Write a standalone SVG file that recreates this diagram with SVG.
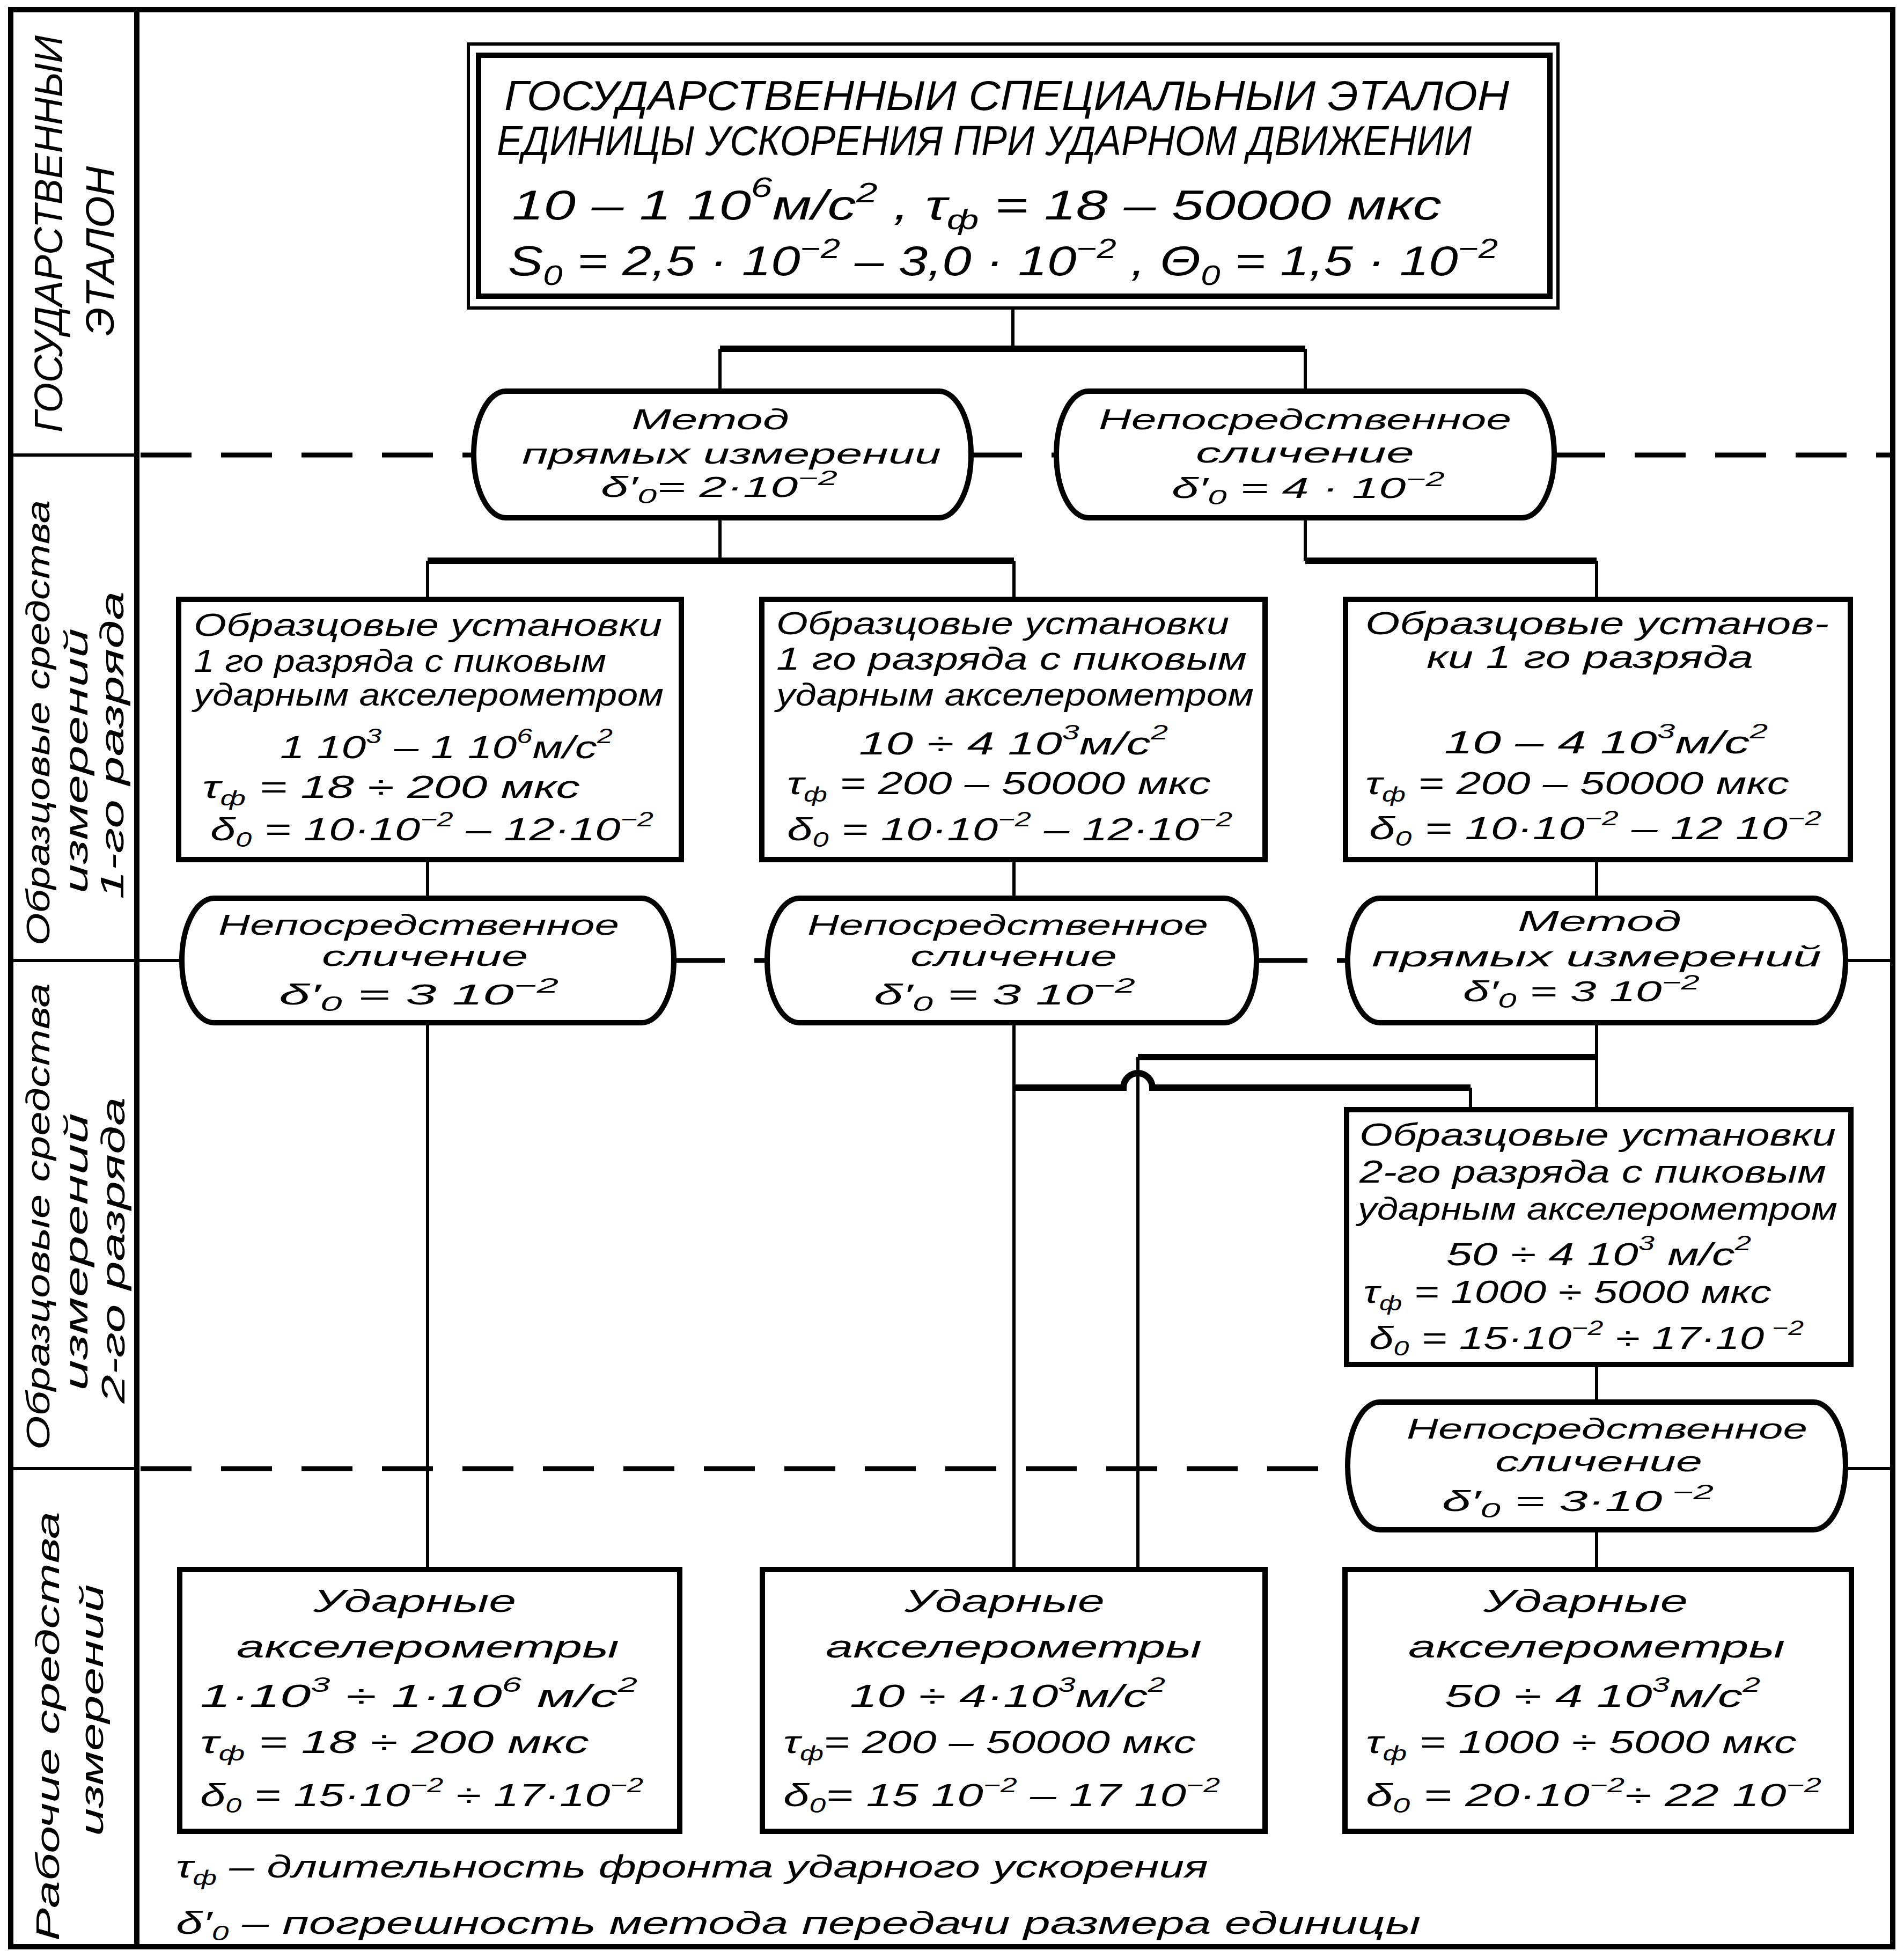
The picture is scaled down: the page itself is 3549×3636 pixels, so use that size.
<svg xmlns="http://www.w3.org/2000/svg" width="3549" height="3636" viewBox="0 0 3549 3636">
<style>
.t{font-family:"Liberation Sans Narrow","Liberation Sans",sans-serif;font-style:italic;fill:#000;}
.b{font-size:60px;}
.o{font-size:54px;}
.h{font-size:78px;}
.lc{font-size:74px;}
.c{font-size:62px;}
.s{font-size:38px;}
.sh{font-size:52px;}
.box{fill:#fff;stroke:#000;stroke-width:10;}
.ov{fill:#fff;stroke:#000;stroke-width:10;}
.v{stroke:#000;stroke-width:6;fill:none;}
.hz{stroke:#000;stroke-width:12;fill:none;}
.fr{stroke:#000;stroke-width:10;fill:none;}
.sep{stroke:#000;stroke-width:6;fill:none;}
.dash{stroke:#000;stroke-width:9;fill:none;stroke-dasharray:95 55;}
</style>
<rect x="0" y="0" width="3549" height="3636" fill="#fff"/>

<g id="frame">
<rect class="fr" x="20" y="18" width="3508" height="3610"/>
<line class="fr" x1="255" y1="18" x2="255" y2="3628"/>
<line class="sep" x1="20" y1="848" x2="255" y2="848"/>
<line class="sep" x1="20" y1="1790" x2="255" y2="1790"/>
<line class="sep" x1="20" y1="2737" x2="255" y2="2737"/>
</g>

<g id="levels">
<line class="dash" x1="262" y1="848" x2="883" y2="848"/>
<line class="dash" x1="1810" y1="848" x2="1969" y2="848"/>
<line class="dash" x1="2897" y1="848" x2="3523" y2="848"/>
<line class="sep" x1="255" y1="1790" x2="339" y2="1790"/>
<line class="dash" x1="1256" y1="1790" x2="1430" y2="1790"/>
<line class="dash" x1="2342" y1="1790" x2="2512" y2="1790"/>
<line class="sep" x1="3440" y1="1790" x2="3528" y2="1790"/>
<line class="dash" x1="262" y1="2737" x2="2512" y2="2737"/>
<line class="sep" x1="3440" y1="2737" x2="3528" y2="2737"/>
</g>

<g id="labels" class="t">
<text class="lc" x="116" y="436" text-anchor="middle" textLength="740" lengthAdjust="spacingAndGlyphs" transform="rotate(-90 116 436)">ГОСУДАРСТВЕННЫИ</text>
<text class="lc" x="212" y="468" text-anchor="middle" textLength="316" lengthAdjust="spacingAndGlyphs" transform="rotate(-90 212 468)">ЭТАЛОН</text>

<text class="c" x="92" y="1347" text-anchor="middle" textLength="830" lengthAdjust="spacingAndGlyphs" transform="rotate(-90 92 1347)">Образцовые средства</text>
<text class="c" x="163" y="1418" text-anchor="middle" textLength="494" lengthAdjust="spacingAndGlyphs" transform="rotate(-90 163 1418)">измерений</text>
<text class="c" x="230" y="1389" text-anchor="middle" textLength="574" lengthAdjust="spacingAndGlyphs" transform="rotate(-90 230 1389)">1-го разряда</text>

<text class="c" x="92" y="2267" text-anchor="middle" textLength="870" lengthAdjust="spacingAndGlyphs" transform="rotate(-90 92 2267)">Образцовые средства</text>
<text class="c" x="163" y="2333" text-anchor="middle" textLength="517" lengthAdjust="spacingAndGlyphs" transform="rotate(-90 163 2333)">измерений</text>
<text class="c" x="232" y="2330" text-anchor="middle" textLength="571" lengthAdjust="spacingAndGlyphs" transform="rotate(-90 232 2330)">2-го разряда</text>

<text class="c" x="110" y="3217" text-anchor="middle" textLength="800" lengthAdjust="spacingAndGlyphs" transform="rotate(-90 110 3217)">Рабочие средства</text>
<text class="c" x="192" y="3187" text-anchor="middle" textLength="469" lengthAdjust="spacingAndGlyphs" transform="rotate(-90 192 3187)">измерений</text>
</g>

<g id="connectors">
<path class="v" d="M1888,574 V650 M1342,650 V729 M2433,650 V729"/>
<path class="hz" d="M1342,650 H2433"/>
<path class="v" d="M1342,965 V1045 M797,1045 V1117 M1890,1045 V1117 M2433,965 V1045 M2976,1045 V1117"/>
<path class="hz" d="M797,1045 H1890 M2433,1045 H2976"/>
<path class="v" d="M797,1602 V1674 M1890,1602 V1674 M2976,1602 V1674"/>
<path class="v" d="M797,1906 V2925 M1890,1906 V2925 M2976,1906 V2068 M2121,1970 V2925 M2741,2027 V2068"/>
<path class="hz" d="M2976,1970 H2121 M1890,2027 H2094 A27,27 0 0 1 2148,2027 H2741"/>
<path class="v" d="M2976,2543 V2613 M2976,2851 V2925"/>
</g>

<g id="n_etalon">
<rect x="873" y="82" width="2031" height="492" fill="#fff" stroke="#000" stroke-width="6"/>
<rect x="892" y="103" width="1997" height="449" fill="none" stroke="#000" stroke-width="10"/>
<g class="t h">
<text x="940" y="205" textLength="1873" lengthAdjust="spacingAndGlyphs">ГОСУДАРСТВЕННЫИ СПЕЦИАЛЬНЫИ  ЭТАЛОН</text>
<text x="926" y="289" textLength="1817" lengthAdjust="spacingAndGlyphs">ЕДИНИЦЫ УСКОРЕНИЯ ПРИ УДАРНОМ ДВИЖЕНИИ</text>
<text x="954" y="409" textLength="1733" lengthAdjust="spacingAndGlyphs">10 – 1 10<tspan class="sh" dy="-42">6</tspan><tspan dy="42">м/с</tspan><tspan class="sh" dy="-32">2</tspan><tspan dy="32"> ,   τ</tspan><tspan class="sh" dy="18">ф</tspan><tspan dy="-18"> = 18 – 50000 мкс</tspan></text>
<text x="947" y="513" textLength="1845" lengthAdjust="spacingAndGlyphs">S<tspan class="sh" dy="18">0</tspan><tspan dy="-18"> = 2,5 · 10</tspan><tspan class="sh" dy="-32">−2</tspan><tspan dy="32"> – 3,0 · 10</tspan><tspan class="sh" dy="-32">−2</tspan><tspan dy="32"> ,  Θ</tspan><tspan class="sh" dy="18">0</tspan><tspan dy="-18"> = 1,5 · 10</tspan><tspan class="sh" dy="-32">−2</tspan></text>
</g>
</g>

<g id="m_direct1">
<path class="ov" d="M943,729 H1750 A60,118 0 0 1 1750,965 H943 A60,118 0 0 1 943,729 Z"/>
<g class="t o">
<text x="1177" y="800" textLength="294" lengthAdjust="spacingAndGlyphs">Метод</text>
<text x="973" y="864" textLength="781" lengthAdjust="spacingAndGlyphs">прямых измерении</text>
<text x="1120" y="926" textLength="441" lengthAdjust="spacingAndGlyphs">δ′<tspan class="s" dy="12">0</tspan><tspan dy="-12">= 2·10</tspan><tspan class="s" dy="-22">−2</tspan></text>
</g>
</g>
<g id="m_compare1">
<path class="ov" d="M2029,729 H2837 A60,118 0 0 1 2837,965 H2029 A60,118 0 0 1 2029,729 Z"/>
<g class="t o">
<text x="2048" y="800" textLength="769" lengthAdjust="spacingAndGlyphs">Непосредственное</text>
<text x="2229" y="862" textLength="407" lengthAdjust="spacingAndGlyphs">сличение</text>
<text x="2184" y="928" textLength="509" lengthAdjust="spacingAndGlyphs">δ′<tspan class="s" dy="12">0</tspan><tspan dy="-12"> = 4 · 10</tspan><tspan class="s" dy="-22">−2</tspan></text>
</g>
</g>

<g id="b1_a">
<rect class="box" x="333" y="1117" width="937" height="485"/>
<g class="t b">
<text x="361" y="1185" textLength="873" lengthAdjust="spacingAndGlyphs">Образцовые установки</text>
<text x="361" y="1252" textLength="769" lengthAdjust="spacingAndGlyphs">1 го разряда с пиковым</text>
<text x="361" y="1315" textLength="876" lengthAdjust="spacingAndGlyphs">ударным акселерометром</text>
<text x="522" y="1413" textLength="620" lengthAdjust="spacingAndGlyphs">1 10<tspan class="s" dy="-28">3</tspan><tspan dy="28"> – 1 10</tspan><tspan class="s" dy="-28">6</tspan><tspan dy="28">м/с</tspan><tspan class="s" dy="-28">2</tspan></text>
<text x="377" y="1487" textLength="704" lengthAdjust="spacingAndGlyphs">τ<tspan class="s" dy="14">ф</tspan><tspan dy="-14"> = 18 ÷ 200 мкс</tspan></text>
<text x="392" y="1566" textLength="826" lengthAdjust="spacingAndGlyphs">δ<tspan class="s" dy="12">0</tspan><tspan dy="-12"> = 10·10</tspan><tspan class="s" dy="-26">−2</tspan><tspan dy="26"> – 12·10</tspan><tspan class="s" dy="-26">−2</tspan></text>
</g>
</g>
<g id="b1_b">
<rect class="box" x="1420" y="1117" width="938" height="485"/>
<g class="t b">
<text x="1447" y="1182" textLength="844" lengthAdjust="spacingAndGlyphs">Образцовые установки</text>
<text x="1447" y="1248" textLength="877" lengthAdjust="spacingAndGlyphs">1 го разряда с пиковым</text>
<text x="1447" y="1315" textLength="890" lengthAdjust="spacingAndGlyphs">ударным акселерометром</text>
<text x="1601" y="1406" textLength="576" lengthAdjust="spacingAndGlyphs">10 ÷ 4  10<tspan class="s" dy="-28">3</tspan><tspan dy="28">м/с</tspan><tspan class="s" dy="-28">2</tspan></text>
<text x="1467" y="1480" textLength="790" lengthAdjust="spacingAndGlyphs">τ<tspan class="s" dy="14">ф</tspan><tspan dy="-14"> = 200 – 50000 мкс</tspan></text>
<text x="1467" y="1566" textLength="830" lengthAdjust="spacingAndGlyphs">δ<tspan class="s" dy="12">0</tspan><tspan dy="-12"> = 10·10</tspan><tspan class="s" dy="-26">−2</tspan><tspan dy="26"> – 12·10</tspan><tspan class="s" dy="-26">−2</tspan></text>
</g>
</g>
<g id="b1_c">
<rect class="box" x="2508" y="1117" width="941" height="485"/>
<g class="t b">
<text x="2545" y="1182" textLength="864" lengthAdjust="spacingAndGlyphs">Образцовые установ-</text>
<text x="2659" y="1245" textLength="609" lengthAdjust="spacingAndGlyphs">ки 1 го разряда</text>
<text x="2692" y="1404" textLength="603" lengthAdjust="spacingAndGlyphs">10 – 4  10<tspan class="s" dy="-28">3</tspan><tspan dy="28">м/с</tspan><tspan class="s" dy="-28">2</tspan></text>
<text x="2545" y="1480" textLength="790" lengthAdjust="spacingAndGlyphs">τ<tspan class="s" dy="14">ф</tspan><tspan dy="-14"> = 200 – 50000 мкс</tspan></text>
<text x="2552" y="1564" textLength="843" lengthAdjust="spacingAndGlyphs">δ<tspan class="s" dy="12">0</tspan><tspan dy="-12"> = 10·10</tspan><tspan class="s" dy="-26">−2</tspan><tspan dy="26"> – 12  10</tspan><tspan class="s" dy="-26">−2</tspan></text>
</g>
</g>

<g id="m_compare2a">
<path class="ov" d="M399,1674 H1196 A60,116 0 0 1 1196,1906 H399 A60,116 0 0 1 399,1674 Z"/>
<g class="t o">
<text x="407" y="1742" textLength="747" lengthAdjust="spacingAndGlyphs">Непосредственное</text>
<text x="600" y="1800" textLength="384" lengthAdjust="spacingAndGlyphs">сличение</text>
<text x="520" y="1872" textLength="521" lengthAdjust="spacingAndGlyphs">δ′<tspan class="s" dy="12">0</tspan><tspan dy="-12"> = 3   10</tspan><tspan class="s" dy="-22">−2</tspan></text>
</g>
</g>
<g id="m_compare2b">
<path class="ov" d="M1490,1674 H2282 A60,116 0 0 1 2282,1906 H1490 A60,116 0 0 1 1490,1674 Z"/>
<g class="t o">
<text x="1505" y="1742" textLength="747" lengthAdjust="spacingAndGlyphs">Непосредственное</text>
<text x="1697" y="1800" textLength="385" lengthAdjust="spacingAndGlyphs">сличение</text>
<text x="1629" y="1872" textLength="487" lengthAdjust="spacingAndGlyphs">δ′<tspan class="s" dy="12">0</tspan><tspan dy="-12"> = 3  10</tspan><tspan class="s" dy="-22">−2</tspan></text>
</g>
</g>
<g id="m_direct2">
<path class="ov" d="M2572,1674 H3380 A60,116 0 0 1 3380,1906 H2572 A60,116 0 0 1 2572,1674 Z"/>
<g class="t o">
<text x="2829" y="1735" textLength="305" lengthAdjust="spacingAndGlyphs">Метод</text>
<text x="2557" y="1801" textLength="838" lengthAdjust="spacingAndGlyphs">прямых  измерений</text>
<text x="2727" y="1866" textLength="441" lengthAdjust="spacingAndGlyphs">δ′<tspan class="s" dy="12">0</tspan><tspan dy="-12"> = 3  10</tspan><tspan class="s" dy="-22">−2</tspan></text>
</g>
</g>

<g id="b2_c">
<rect class="box" x="2510" y="2068" width="940" height="475"/>
<g class="t b">
<text x="2534" y="2135" textLength="888" lengthAdjust="spacingAndGlyphs">Образцовые установки</text>
<text x="2534" y="2204" textLength="870" lengthAdjust="spacingAndGlyphs">2-го разряда с пиковым</text>
<text x="2531" y="2273" textLength="894" lengthAdjust="spacingAndGlyphs">ударным акселерометром</text>
<text x="2696" y="2358" textLength="568" lengthAdjust="spacingAndGlyphs">50 ÷ 4  10<tspan class="s" dy="-28">3</tspan><tspan dy="28"> м/с</tspan><tspan class="s" dy="-28">2</tspan></text>
<text x="2541" y="2428" textLength="761" lengthAdjust="spacingAndGlyphs">τ<tspan class="s" dy="14">ф</tspan><tspan dy="-14"> = 1000 ÷ 5000 мкс</tspan></text>
<text x="2552" y="2514" textLength="810" lengthAdjust="spacingAndGlyphs">δ<tspan class="s" dy="12">0</tspan><tspan dy="-12"> = 15·10</tspan><tspan class="s" dy="-26">−2</tspan><tspan dy="26"> ÷ 17·10</tspan><tspan class="s" dy="-26"> −2</tspan></text>
</g>
</g>
<g id="m_compare3">
<path class="ov" d="M2572,2613 H3380 A60,119 0 0 1 3380,2851 H2572 A60,119 0 0 1 2572,2613 Z"/>
<g class="t o">
<text x="2622" y="2681" textLength="747" lengthAdjust="spacingAndGlyphs">Непосредственное</text>
<text x="2787" y="2742" textLength="386" lengthAdjust="spacingAndGlyphs">сличение</text>
<text x="2688" y="2816" textLength="506" lengthAdjust="spacingAndGlyphs">δ′<tspan class="s" dy="12">0</tspan><tspan dy="-12"> = 3·10</tspan><tspan class="s" dy="-22"> −2</tspan></text>
</g>
</g>

<g id="w_a">
<rect class="box" x="335" y="2925" width="932" height="488"/>
<g class="t b">
<text x="584" y="3004" textLength="378" lengthAdjust="spacingAndGlyphs">Ударные</text>
<text x="441" y="3089" textLength="713" lengthAdjust="spacingAndGlyphs">акселерометры</text>
<text x="373" y="3181" textLength="815" lengthAdjust="spacingAndGlyphs">1·10<tspan class="s" dy="-28">3</tspan><tspan dy="28"> ÷  1·10</tspan><tspan class="s" dy="-28">6</tspan><tspan dy="28"> м/с</tspan><tspan class="s" dy="-28">2</tspan></text>
<text x="373" y="3267" textLength="725" lengthAdjust="spacingAndGlyphs">τ<tspan class="s" dy="14">ф</tspan><tspan dy="-14"> = 18 ÷ 200 мкс</tspan></text>
<text x="373" y="3366" textLength="826" lengthAdjust="spacingAndGlyphs">δ<tspan class="s" dy="12">0</tspan><tspan dy="-12"> = 15·10</tspan><tspan class="s" dy="-26">−2</tspan><tspan dy="26"> ÷ 17·10</tspan><tspan class="s" dy="-26">−2</tspan></text>
</g>
</g>
<g id="w_b">
<rect class="box" x="1421" y="2925" width="937" height="488"/>
<g class="t b">
<text x="1686" y="3004" textLength="373" lengthAdjust="spacingAndGlyphs">Ударные</text>
<text x="1539" y="3089" textLength="701" lengthAdjust="spacingAndGlyphs">акселерометры</text>
<text x="1584" y="3181" textLength="588" lengthAdjust="spacingAndGlyphs">10 ÷ 4·10<tspan class="s" dy="-28">3</tspan><tspan dy="28">м/с</tspan><tspan class="s" dy="-28">2</tspan></text>
<text x="1460" y="3267" textLength="769" lengthAdjust="spacingAndGlyphs">τ<tspan class="s" dy="14">ф</tspan><tspan dy="-14">= 200 – 50000 мкс</tspan></text>
<text x="1460" y="3366" textLength="814" lengthAdjust="spacingAndGlyphs">δ<tspan class="s" dy="12">0</tspan><tspan dy="-12">= 15 10</tspan><tspan class="s" dy="-26">−2</tspan><tspan dy="26"> – 17  10</tspan><tspan class="s" dy="-26">−2</tspan></text>
</g>
</g>
<g id="w_c">
<rect class="box" x="2507" y="2925" width="944" height="488"/>
<g class="t b">
<text x="2765" y="3004" textLength="381" lengthAdjust="spacingAndGlyphs">Ударные</text>
<text x="2625" y="3089" textLength="702" lengthAdjust="spacingAndGlyphs">акселерометры</text>
<text x="2693" y="3181" textLength="588" lengthAdjust="spacingAndGlyphs">50 ÷ 4  10<tspan class="s" dy="-28">3</tspan><tspan dy="28">м/с</tspan><tspan class="s" dy="-28">2</tspan></text>
<text x="2546" y="3267" textLength="803" lengthAdjust="spacingAndGlyphs">τ<tspan class="s" dy="14">ф</tspan><tspan dy="-14"> = 1000 ÷ 5000 мкс</tspan></text>
<text x="2546" y="3366" textLength="849" lengthAdjust="spacingAndGlyphs">δ<tspan class="s" dy="12">0</tspan><tspan dy="-12"> = 20·10</tspan><tspan class="s" dy="-26">−2</tspan><tspan dy="26">÷ 22  10</tspan><tspan class="s" dy="-26">−2</tspan></text>
</g>
</g>

<g id="legend" class="t b">
<text x="328" y="3499" textLength="1924" lengthAdjust="spacingAndGlyphs">τ<tspan class="s" dy="14">ф</tspan><tspan dy="-14"> – длительность фронта  ударного  ускорения</tspan></text>
<text x="328" y="3604" textLength="2320" lengthAdjust="spacingAndGlyphs">δ′<tspan class="s" dy="12">0</tspan><tspan dy="-12"> – погрешность  метода  передачи  размера  единицы</tspan></text>
</g>
</svg>
